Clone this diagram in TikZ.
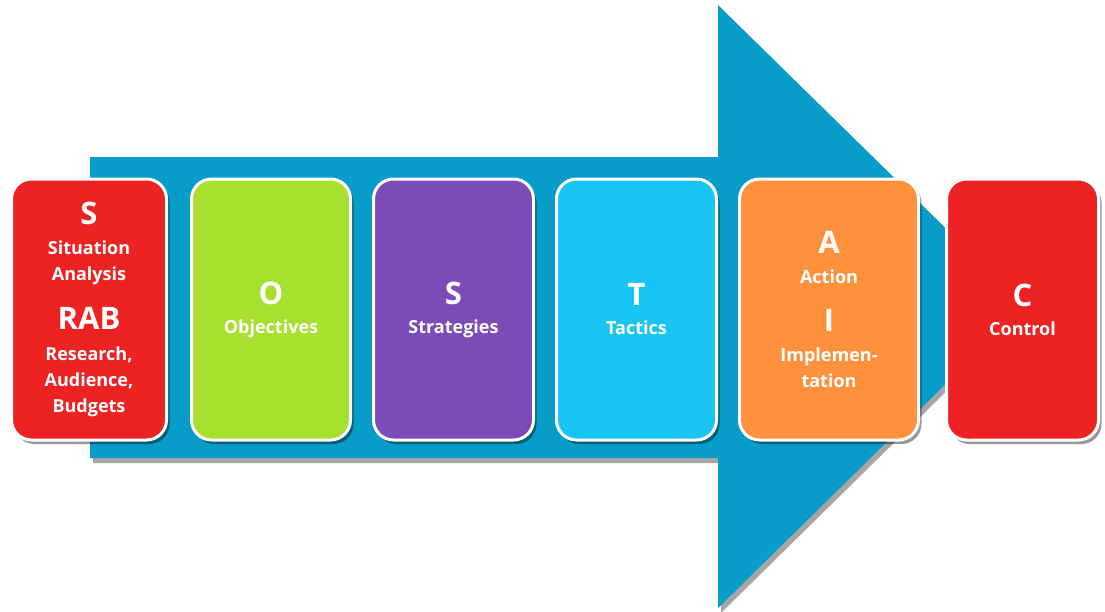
\documentclass[tikz,border=0pt]{standalone}
\usepackage{fontspec}
\setmainfont{Open Sans}
\usetikzlibrary{shadows}
\definecolor{arrowblue}{RGB}{8,157,200}
\definecolor{sostred}{RGB}{237,34,34}
\definecolor{sostgreen}{RGB}{168,224,48}
\definecolor{sostpurple}{RGB}{123,75,183}
\definecolor{sostcyan}{RGB}{24,196,242}
\definecolor{sostorange}{RGB}{255,145,60}
\newcommand{\bigletter}[1]{{\fontsize{31}{34}\selectfont #1}}

\begin{document}
\begin{tikzpicture}[x=1pt, y=-1pt,
  card/.style={draw=white, line width=3pt, rounded corners=20pt,
    minimum height=261pt, inner sep=0pt, text=white, align=center,
    font=\bfseries\fontsize{18}{26}\selectfont,
    drop shadow={shadow xshift=3pt, shadow yshift=-4pt, opacity=0.4, fill=black}}]
  \useasboundingbox (0,0) rectangle (1105,611);
  % the big arrow
  \coordinate (tailTop) at (90,157);
  \coordinate (neckTop) at (718,157);
  \coordinate (headTop) at (718,5);
  \coordinate (tip) at (1025,306);
  \coordinate (headBot) at (718,608);
  \coordinate (neckBot) at (718,458);
  \coordinate (tailBot) at (90,458);
  \fill[arrowblue, drop shadow={shadow xshift=3pt, shadow yshift=-5pt, opacity=0.35, fill=black}]
    (tailTop) -- (neckTop) -- (headTop) -- (tip) -- (headBot) -- (neckBot) -- (tailBot) -- cycle;
  % the six cards
  \node[card, fill=sostred, minimum width=155pt] (situation) at (89,309.5)
    {\bigletter{S}\\[4pt] Situation\\ Analysis\\[22pt] \bigletter{RAB}\\[5pt] Research,\\ Audience,\\ Budgets};
  \node[card, fill=sostgreen, minimum width=159pt] (objectives) at (271,309.5)
    {\bigletter{O}\\[3pt] Objectives};
  \node[card, fill=sostpurple, minimum width=160pt] (strategies) at (453.5,309.5)
    {\bigletter{S}\\[3pt] Strategies};
  \node[card, fill=sostcyan, minimum width=160pt] (tactics) at (636.5,309.5)
    {\bigletter{T}\\[3pt] Tactics};
  \node[card, fill=sostorange, minimum width=179pt] (action) at (829,309.5)
    {\bigletter{A}\\[4pt] Action\\[22pt] \bigletter{I}\\[4pt] Implemen-\\ tation};
  \node[card, fill=sostred, minimum width=152pt] (control) at (1022.5,309.5)
    {\bigletter{C}\\[3pt] Control};
\end{tikzpicture}
\end{document}
